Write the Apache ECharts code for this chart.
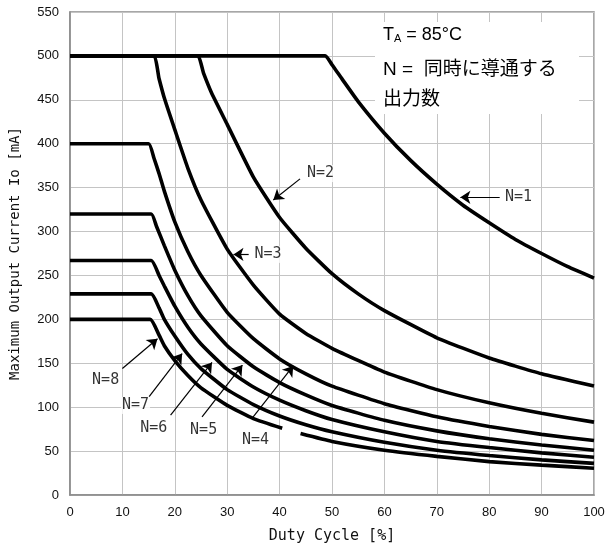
<!DOCTYPE html>
<html>
<head>
<meta charset="utf-8">
<script src="https://cdn.jsdelivr.net/npm/echarts@6/dist/echarts.min.js"></script>
<style>
  html, body { margin: 0; padding: 0; background: #fff; }
  #chart { width: 614px; height: 551px; }
</style>
</head>
<body>
<div id="chart"></div>
<script>
// duty cycle [%] / current [mA] pairs
const curveN1 = [[0, 500], [48.7, 500], [50, 490], [52, 473], [55, 448], [60, 412], [65, 381], [70, 354], [75, 330], [80, 310], [85, 291], [90, 275], [95, 260], [100, 247]];
const curveN2 = [[0, 500], [24.3, 500], [25.5, 480], [27, 458], [30, 422], [35, 362], [40, 316], [45, 281], [50, 252], [55, 229], [60, 210], [70, 179], [80, 156], [90, 138], [100, 124]];
const curveN3 = [[0, 500], [15.9, 500], [17, 474], [18, 452], [20, 416], [22.5, 372], [25, 336], [30, 280], [35, 239], [40, 206], [45, 184], [50, 167], [60, 140], [70, 120], [80, 105], [90, 93], [100, 83]];
const curveN4 = [[0, 400], [15, 400], [16, 384], [17, 366], [18, 346], [20, 311], [22.5, 277], [25, 250], [30, 208], [35, 178], [40, 155], [45, 138], [50, 124], [60, 104], [70, 89], [80, 78], [90, 69], [100, 62]];
const curveN5 = [[0, 320], [15.5, 320], [16.5, 306], [18, 284], [20, 256], [22.5, 227], [25, 204], [30, 170], [35, 146], [40, 128], [45, 114], [50, 102], [60, 85], [70, 73], [80, 64], [90, 57], [100, 51]];
const curveN6 = [[0, 267], [15.5, 267], [17, 250], [18, 238], [20, 215], [22.5, 191], [25, 172], [30, 143], [35, 123], [40, 108], [45, 96], [50, 86], [60, 72], [70, 61], [80, 54], [90, 48], [100, 43]];
const curveN7 = [[0, 229], [15.5, 229], [17, 213], [18, 200], [20, 181], [22.5, 160], [25, 144], [30, 120], [35, 103], [40, 90], [45, 80], [50, 72], [60, 60], [70, 51], [80, 45], [90, 40], [100, 36]];
const curveN8 = [[0, 200], [15.3, 200], [17, 182], [18, 170], [20, 153], [22.5, 136], [25, 122], [30, 102], [35, 87], [40.5, 76], [42, '-'], [44, 70], [50, 61], [60, 51], [70, 44], [80, 38], [90, 34], [100, 30.5]];

const curveNames = ['N=1', 'N=2', 'N=3', 'N=4', 'N=5', 'N=6', 'N=7', 'N=8'];
const curves = [curveN1, curveN2, curveN3, curveN4, curveN5, curveN6, curveN7, curveN8];

// label text centres and arrow tail -> head, in data units
const labelPos = [[85.6, 339], [47.8, 366], [37.8, 274], [35.4, 62], [25.5, 74], [16, 76], [12.5, 102], [6.8, 131]];
const arrowTail = [[82, 339], [43.9, 360], [34.1, 274], [34.7, 87], [25.2, 89], [19.2, 91], [15.1, 112], [10, 144]];
const arrowHead = [[74.5, 339], [38.8, 336], [31.2, 274], [42.6, 147], [32.9, 148], [27.1, 151], [21.4, 161], [16.7, 178]];

const xTicks = { min: 0, max: 100, interval: 10 };
const yTicks = { min: 0, max: 550, interval: 50 };

const chart = echarts.init(document.getElementById('chart'), null, { renderer: 'canvas' });

const lineSeries = curves.map((d, i) => ({
  name: curveNames[i],
  type: 'line',
  data: d,
  symbol: 'none',
  smooth: 0.15,
  connectNulls: false,
  lineStyle: { color: '#000', width: 3.6 },
  silent: true
}));

const option = {
  animation: false,
  backgroundColor: '#fff',
  grid: { left: 69, right: 20, top: 12, bottom: 56, show: true, borderColor: '#8a8a8a', borderWidth: 1.5 },
  xAxis: {
    type: 'value',
    min: xTicks.min, max: xTicks.max, interval: xTicks.interval,
    name: 'Duty Cycle [%]',
    nameLocation: 'middle',
    nameGap: 34,
    nameTextStyle: { fontFamily: 'DejaVu Sans Mono', fontSize: 15, color: '#111' },
    axisLine: { show: true, lineStyle: { color: '#8a8a8a', width: 1.5 } },
    axisTick: { show: false },
    axisLabel: { fontFamily: 'Liberation Sans', fontSize: 13, color: '#111', margin: 11 },
    splitLine: { show: true, lineStyle: { color: '#c4c4c4', width: 1 } }
  },
  yAxis: {
    type: 'value',
    min: yTicks.min, max: yTicks.max, interval: yTicks.interval,
    name: 'Maximum Output Current Io [mA]',
    nameLocation: 'middle',
    nameGap: 48,
    nameTextStyle: { fontFamily: 'DejaVu Sans Mono', fontSize: 14, color: '#111' },
    axisLine: { show: true, lineStyle: { color: '#8a8a8a', width: 1.5 } },
    axisTick: { show: false },
    axisLabel: { fontFamily: 'Liberation Sans', fontSize: 13, color: '#111', margin: 11 },
    splitLine: { show: true, lineStyle: { color: '#c4c4c4', width: 1 } }
  },
  series: lineSeries.concat([{
    name: 'labels',
    type: 'scatter',
    symbolSize: 0,
    silent: true,
    z: 5,
    data: labelPos.map((p, i) => ({ name: curveNames[i], value: p })),
    label: {
      show: true,
      position: 'inside',
      formatter: '{b}',
      fontFamily: 'DejaVu Sans Mono',
      fontSize: 15,
      color: '#000',
      backgroundColor: '#fff',
      padding: [1, 1]
    },
    markLine: {
      silent: true,
      symbol: ['none', 'arrow'],
      symbolSize: 10,
      label: { show: false },
      lineStyle: { color: '#000', width: 1.2, type: 'solid' },
      data: arrowTail.map((t, i) => [{ coord: t }, { coord: arrowHead[i] }])
    }
  }]),
  graphic: [
    { type: 'rect', shape: { x: 375, y: 22, width: 204, height: 92 }, style: { fill: '#fff' }, z: 10 },
    {
      type: 'text', left: 383, top: 26, z: 11,
      style: {
        text: '{t|T}{s|A}{t| = 85°C}',
        rich: {
          t: { fontFamily: 'Liberation Sans', fontSize: 18, fill: '#000' },
          s: { fontFamily: 'Liberation Sans', fontSize: 11, fill: '#000', padding: [8, 0, 0, 0] }
        }
      }
    },
    { type: 'text', left: 383, top: 60, z: 11, style: { text: 'N =  同時に導通する', fontFamily: 'Liberation Sans, Noto Sans CJK JP', fontSize: 19, fill: '#000' } },
    { type: 'text', left: 383, top: 88, z: 11, style: { text: '出力数', fontFamily: 'Noto Sans CJK JP', fontSize: 19, fill: '#000' } }
  ]
};

chart.setOption(option);
</script>
</body>
</html>
